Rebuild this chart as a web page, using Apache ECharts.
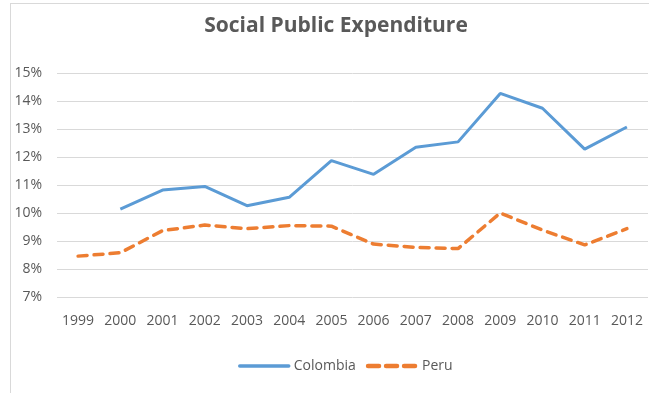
<!DOCTYPE html>
<html>
<head>
<meta charset="utf-8">
<script src="https://cdn.jsdelivr.net/npm/echarts@6/dist/echarts.min.js"></script>
<style>
  html, body { margin: 0; padding: 0; background: #fff; }
  #wrap { position: relative; width: 649px; height: 393px; overflow: hidden; }
  #frame { position: absolute; left: 10px; top: 3px; width: 700px; height: 500px; border: 1px solid #d9d9d9; box-sizing: border-box; }
  #chart { position: absolute; left: 0; top: 0; width: 649px; height: 393px; }
</style>
</head>
<body>
<div id="wrap">
  <div id="frame"></div>
  <div id="chart"></div>
</div>
<script>
// years on the x axis
var years = ['1999','2000','2001','2002','2003','2004','2005','2006','2007','2008','2009','2010','2011','2012'];
// social public expenditure, % (Colombia has no 1999 value)
var colombia = [null, 10.14, 10.82, 10.95, 10.26, 10.56, 11.87, 11.38, 12.35, 12.54, 14.27, 13.74, 12.28, 13.07];
var peru = [8.46, 8.58, 9.37, 9.57, 9.44, 9.55, 9.53, 8.89, 8.77, 8.73, 10.0, 9.39, 8.86, 9.44];

var myChart = echarts.init(document.getElementById('chart'));
var txt = '#595959';
var font = 'Open Sans';
var option = {
  animation: false,
  title: {
    text: 'Social Public Expenditure',
    left: 331, top: 11, textAlign: 'center',
    textStyle: { fontFamily: font, fontSize: 21, fontWeight: 'bold', color: txt }
  },
  legend: {
    data: [
      { name: 'Colombia', lineStyle: { width: 3.5, cap: 'round' } },
      { name: 'Peru', lineStyle: { width: 4.5, type: [11, 7], cap: 'round' } }
    ],
    left: 233, top: 354,
    itemWidth: 49, itemHeight: 14, itemGap: 10,
    itemStyle: { opacity: 0 },
    textStyle: { fontFamily: font, fontSize: 14, color: txt }
  },
  grid: { left: 57, right: 1, top: 73, bottom: 96, containLabel: false },
  xAxis: {
    type: 'category',
    data: years,
    axisLine: { show: false },
    axisTick: { show: false },
    axisLabel: { margin: 17, interval: 0, fontFamily: font, fontSize: 14, color: txt }
  },
  yAxis: {
    type: 'value',
    min: 7, max: 15, interval: 1,
    axisLine: { show: false },
    axisTick: { show: false },
    splitLine: { lineStyle: { color: '#d9d9d9', width: 1 } },
    axisLabel: { margin: 15, formatter: '{value}%', fontFamily: font, fontSize: 14, color: txt }
  },
  series: [
    {
      name: 'Colombia', type: 'line', data: colombia,
      symbol: 'none', connectNulls: false,
      color: '#5b9bd5',
      lineStyle: { color: '#5b9bd5', width: 3 }
    },
    {
      name: 'Peru', type: 'line', data: peru,
      symbol: 'none',
      color: '#ed7d31',
      lineStyle: { color: '#ed7d31', width: 3.5, type: [9, 7], cap: 'round' }
    }
  ]
};
myChart.setOption(option);
</script>
</body>
</html>
